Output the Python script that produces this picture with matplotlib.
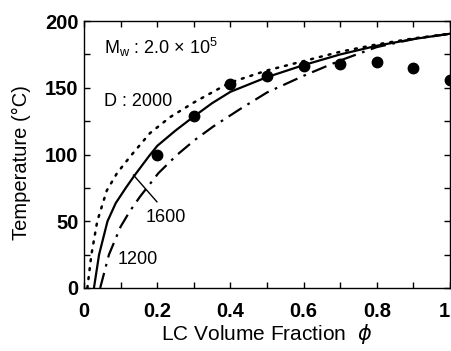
import matplotlib
matplotlib.use("Agg")
import matplotlib.pyplot as plt
from matplotlib.ticker import MultipleLocator

plt.rcParams['font.family'] = ['Liberation Sans', 'DejaVu Sans']

# Experimental points
phi_exp = [0.2, 0.3, 0.4, 0.5, 0.6, 0.7, 0.8, 0.9, 1.0]
T_exp = [99.5, 129, 153, 159, 166, 167.5, 169, 164.5, 156]

# Calculated curves for D = 2000, 1600, 1200
phi_2000 = [0.009, 0.02, 0.036, 0.062, 0.09, 0.126, 0.18, 0.235, 0.3, 0.366, 0.4,
            0.5, 0.6, 0.7, 0.8, 0.9, 1.0]
T_2000 = [0, 25, 50, 73, 86, 98.5, 116, 128, 139, 149, 154,
          163, 170, 177, 182.5, 187, 190.5]

phi_1600 = [0.027, 0.041, 0.064, 0.0865, 0.114, 0.137, 0.178, 0.2, 0.25, 0.3, 0.35,
            0.4, 0.5, 0.6, 0.7, 0.8, 0.9, 1.0]
T_1600 = [0, 25, 50, 63.6, 75, 84, 99, 106.5, 118, 128.5, 138.5,
          147, 158, 167, 175, 181.5, 186.5, 190.5]

phi_1200 = [0.044, 0.068, 0.100, 0.125, 0.153, 0.203, 0.253, 0.303, 0.353, 0.426,
            0.5, 0.6, 0.7, 0.8, 0.9, 1.0]
T_1200 = [0, 25, 46, 57.5, 68.5, 86, 99.5, 111, 121, 134,
          146.5, 159, 170.5, 180.5, 186.5, 190.5]

xticks = [0, 0.2, 0.4, 0.6, 0.8, 1.0]
xticklabels = ['0', '0.2', '0.4', '0.6', '0.8', '1']
yticks = [0, 50, 100, 150, 200]

fig = plt.figure(figsize=(4.52, 3.51), dpi=100)
ax = fig.add_axes([0.186, 0.1795, 0.8096, 0.7605])

ax.plot(phi_2000, T_2000, color='black', lw=1.8, linestyle=(0, (0.8, 2.8)), dash_capstyle='round')
ax.plot(phi_1600, T_1600, color='black', lw=1.6, linestyle='-')
ax.plot(phi_1200, T_1200, color='black', lw=1.6, linestyle=(0, (7, 3, 1.2, 3)))
ax.plot(phi_exp, T_exp, 'o', color='black', ms=7.5, clip_on=False, zorder=5)

ax.set_xlim(0, 1)
ax.set_ylim(0, 200)
ax.set_xticks(xticks)
ax.set_xticklabels(xticklabels)
ax.set_yticks(yticks)
ax.xaxis.set_minor_locator(MultipleLocator(0.1))
ax.yaxis.set_minor_locator(MultipleLocator(25))
ax.tick_params(which='both', direction='in', top=True, right=True, length=4, width=1)
ax.tick_params(axis='y', labelsize=14.5, pad=4)
ax.tick_params(axis='x', labelsize=14.5, pad=10)
for lab in ax.get_xticklabels() + ax.get_yticklabels():
    lab.set_fontweight('bold')
ax.get_xticklabels()[-1].set_horizontalalignment('right')
for s in ax.spines.values():
    s.set_linewidth(1.0)

ax.set_xlabel(r'LC Volume Fraction  $\phi$', fontsize=15, labelpad=1)
ax.set_ylabel('Temperature (°C)', fontsize=14.5)
ax.yaxis.set_label_coords(-0.145, 0.47)

ax.text(0.055, 0.9, r'M$_{\mathregular{w}}$ : 2.0 × 10$^{\mathregular{5}}$', transform=ax.transAxes,
        fontsize=13, va='center', ha='left')
ax.text(0.055, 0.70, 'D : 2000', transform=ax.transAxes, fontsize=13, va='center', ha='left')

ax.plot([0.135, 0.199], [84.6, 64.6], color='black', lw=1.0)
ax.text(0.168, 53, '1600', fontsize=13, va='center', ha='left')
ax.text(0.093, 21, '1200', fontsize=13, va='center', ha='left')

fig.savefig('out.png', dpi=100)
